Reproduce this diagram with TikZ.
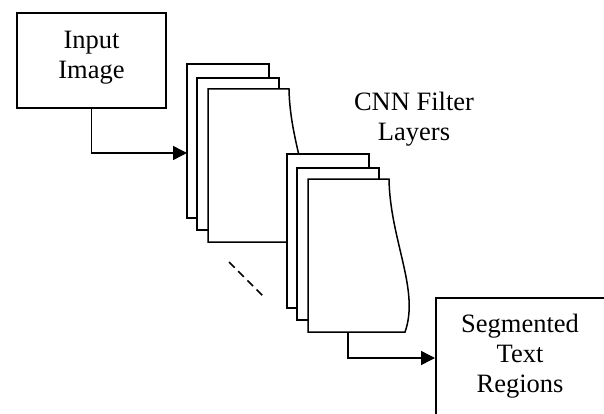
\documentclass[tikz,border=0pt]{standalone}
\usepackage{fontspec}
\setmainfont{Liberation Serif}
\usetikzlibrary{arrows.meta}
\begin{document}
\begin{tikzpicture}[x=1pt,y=-1pt, line width=1.5pt,
  box/.style={draw, fill=white, inner sep=0pt},
  lbl/.style={align=center, font=\fontsize{26.5}{30}\selectfont, inner sep=0pt},
  arr/.style={-{Triangle[length=14pt,width=14pt]}},
  page/.style={draw, fill=white, inner sep=0pt}]
\clip (0,0) rectangle (604,414);
\fill[white] (0,0) rectangle (604,414);
% Input box
\node[box, minimum width=149pt, minimum height=95pt] (inp) at (91.5,60.5) {};
\node[lbl] (inptxt) at (91.5,58) {Input\\Image};
% stacks of filter layers
\foreach \s/\dx/\dy in {1/0/0, 2/100/90}{
  \begin{scope}[shift={(\dx,\dy)}]
    \node[page, minimum width=82pt, minimum height=154pt] (s\s a) at (228,141) {};
    \node[page, minimum width=82pt, minimum height=152pt] (s\s b) at (238,154) {};
    \coordinate (s\s tl) at (208,89);
    \coordinate (s\s tr) at (289,89);
    \coordinate (s\s br) at (305,242);
    \coordinate (s\s bl) at (208,242);
    \filldraw[fill=white] (s\s tl) -- (s\s tr) .. controls (290,150) and (320,200) .. (s\s br) -- (s\s bl) -- cycle;
  \end{scope}
}
% connectors
\coordinate (in1) at (187,153);
\draw[arr] (inp.south) |- (in1);
\coordinate (out2) at (348,332);
% output box
\node[box, minimum width=172pt, minimum height=130pt, anchor=north west] (seg) at (435,297) {};
\node[lbl] (segtxt) at (520,356.5) {Segmented\\Text\\Regions};
\coordinate (segin) at (435,358);
\draw[arr] (out2) |- (segin);
% dashed continuation
\coordinate (d1) at (229,262);
\coordinate (d2) at (263,296);
\draw[dash pattern=on 8pt off 5pt] (d1) -- (d2);
% label
\node[lbl] (cnn) at (414,119) {CNN Filter\\Layers};
\end{tikzpicture}
\end{document}
